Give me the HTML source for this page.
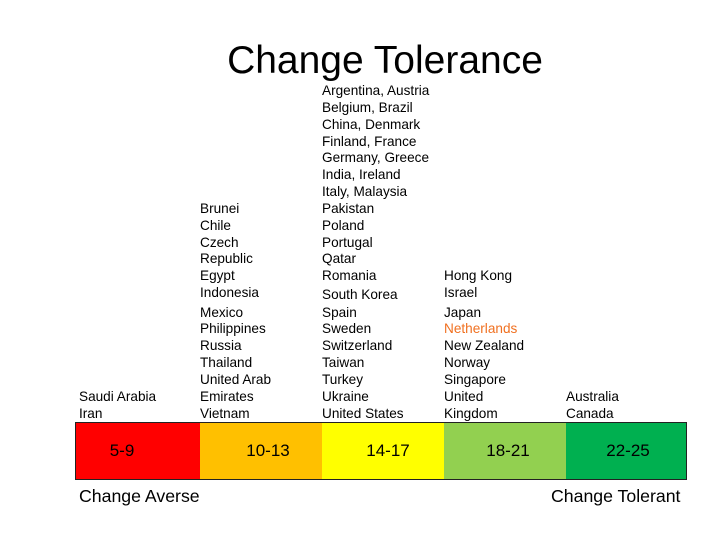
<!DOCTYPE html>
<html><head><meta charset="utf-8"><style>
body{margin:0;width:720px;height:540px;background:#fff;position:relative;overflow:hidden;font-family:"Liberation Sans",sans-serif;color:#000}
.t{position:absolute;font-size:13.6px;line-height:16px;white-space:nowrap}
.title{position:absolute;left:0;width:770px;text-align:center;top:38px;font-size:39px;line-height:46px}
.bar{position:absolute;left:75px;top:422px;width:610px;height:56px;border:1px solid #222}
.seg{position:absolute;top:0;height:56px}
.lab{position:absolute;top:441px;font-size:17px;line-height:20px;width:80px;text-align:center}
.b{position:absolute;font-size:17.7px;top:486px;line-height:20px}
</style></head><body>
<div class="title">Change Tolerance</div>
<div id="c"></div>
<div class="bar">
<div class="seg" style="left:0;width:124px;background:#ff0000"></div>
<div class="seg" style="left:124px;width:122px;background:#ffc000"></div>
<div class="seg" style="left:246px;width:122px;background:#ffff00"></div>
<div class="seg" style="left:368px;width:122px;background:#92d050"></div>
<div class="seg" style="left:490px;width:120px;background:#00b050"></div>
</div>
<div class="lab" style="left:82px">5-9</div>
<div class="lab" style="left:228px">10-13</div>
<div class="lab" style="left:348px">14-17</div>
<div class="lab" style="left:468px">18-21</div>
<div class="lab" style="left:588px">22-25</div>
<div class="b" style="left:79px">Change Averse</div>
<div class="b" style="left:551px">Change Tolerant</div>
<script>
var ys3=[90,107,124,141,157,174,191,208,225,242,258,275,294,312,328,345,362,379,396,413];
var cols=[
[79,[["Saudi Arabia",396],["Iran",413]]],
[200,[["Brunei",208],["Chile",225],["Czech",242],["Republic",258],["Egypt",275],["Indonesia",292],["Mexico",312],["Philippines",328],["Russia",345],["Thailand",362],["United Arab",379],["Emirates",396],["Vietnam",413]]],
[322,["Argentina, Austria","Belgium, Brazil","China, Denmark","Finland, France","Germany, Greece","India, Ireland","Italy, Malaysia","Pakistan","Poland","Portugal","Qatar","Romania","South Korea","Spain","Sweden","Switzerland","Taiwan","Turkey","Ukraine","United States"].map(function(s,i){return [s,ys3[i]]})],
[444,[["Hong Kong",275],["Israel",292],["Japan",312],["Netherlands",328,"#f07020"],["New Zealand",345],["Norway",362],["Singapore",379],["United",396],["Kingdom",413]]],
[566,[["Australia",396],["Canada",413]]]];
var h="";
cols.forEach(function(c){c[1].forEach(function(l){h+='<div class="t" style="left:'+c[0]+'px;top:'+(l[1]-7.5)+'px'+(l[2]?';color:'+l[2]:'')+'">'+l[0]+'</div>';});});
document.getElementById("c").innerHTML=h;
</script>
</body></html>
